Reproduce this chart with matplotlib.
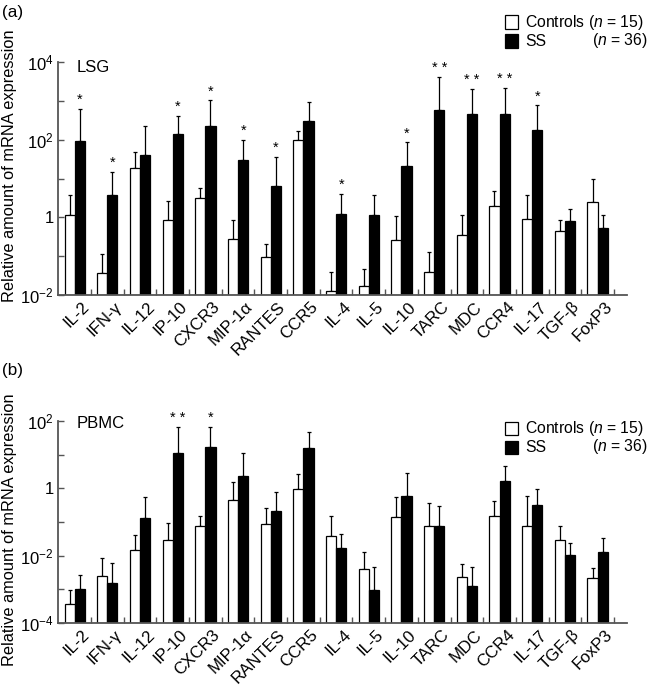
import matplotlib
matplotlib.use("Agg")
import matplotlib.pyplot as plt
from matplotlib.patches import Rectangle
from matplotlib.ticker import FixedLocator, FuncFormatter
from matplotlib.transforms import ScaledTranslation
import numpy as np

plt.rcParams['font.family'] = ['Liberation Sans', 'DejaVu Sans']
plt.rcParams['mathtext.fontset'] = 'custom'
plt.rcParams['mathtext.rm'] = 'Liberation Sans'
plt.rcParams['mathtext.it'] = 'Liberation Sans:italic'
plt.rcParams['mathtext.bf'] = 'Liberation Sans:bold'

categories = ["IL-2", "IFN-γ", "IL-12", "IP-10", "CXCR3", "MIP-1α", "RANTES", "CCR5",
              "IL-4", "IL-5", "IL-10", "TARC", "MDC", "CCR4", "IL-17", "TGF-β", "FoxP3"]

# LSG (panel a)
lsg_ctrl = [1.15, 0.036, 18.6, 0.83, 3.2, 0.28, 0.093, 100, 0.0126, 0.017, 0.26, 0.038, 0.36, 2.0, 0.89, 0.45, 2.45]
lsg_ctrl_err = [2.55, 0.081, 28.4, 1.87, 2.6, 0.55, 0.117, 70, 0.027, 0.029, 0.81, 0.088, 0.79, 2.9, 2.8, 0.40, 7.05]
lsg_ss = [91, 3.7, 40, 138, 224, 30, 6.6, 309, 1.23, 1.15, 21, 589, 447, 447, 182, 0.79, 0.52]
lsg_ss_err = [540, 11.1, 184, 269, 799, 68, 28.9, 624, 2.87, 2.55, 64, 3581, 1548, 1741, 577, 0.87, 0.65]
lsg_sig = ["*", "*", "", "*", "*", "*", "*", "", "*", "", "*", "**", "**", "**", "*", "", ""]

# PBMC (panel b)
pbmc_ctrl = [3.6e-4, 2.5e-3, 0.0145, 0.029, 0.078, 0.45, 0.087, 0.93, 0.038, 0.004, 0.138, 0.076, 0.00234, 0.148, 0.076, 0.0295, 0.00214]
pbmc_ctrl_err = [6.2e-4, 6.0e-3, 0.0255, 0.064, 0.073, 1.06, 0.17, 1.76, 0.117, 0.0092, 0.42, 0.287, 0.0033, 0.269, 0.524, 0.0465, 0.0021]
pbmc_ss = [1.05e-3, 1.55e-3, 0.132, 11.5, 17.4, 2.34, 0.214, 15.5, 0.017, 9.8e-4, 0.60, 0.076, 1.23e-3, 1.70, 0.31, 0.0107, 0.0126]
pbmc_ss_err = [1.58e-3, 4.35e-3, 0.405, 56.1, 50.2, 8.66, 0.576, 30.2, 0.0257, 3.59e-3, 2.22, 0.226, 3.45e-3, 2.77, 0.62, 0.0133, 0.0213]
pbmc_sig = ["", "", "", "**", "*", "", "", "", "", "", "", "", "", "", "", "", ""]

W, H = 651, 688
fig = plt.figure(figsize=(W / 100, H / 100), dpi=100)

spine_col = "#555555"
FS_X = 12.2
FS_Y = 12.0
FS_LEG = 11.3


def px_rect(l, t, r, b):
    return [l / W, 1 - b / H, (r - l) / W, (b - t) / H]


def panel(rect, ctrl, ctrl_err, ss, ss_err, sig, ylo, yhi, label_exps):
    ax = fig.add_axes(rect)
    n = len(categories)
    x = np.arange(n)
    bw = 0.31
    ax.set_yscale("log")
    ax.set_ylim(ylo, yhi)
    ax.set_xlim(-0.51, n - 0.1)
    base = ylo
    c = np.array(ctrl)
    s = np.array(ss)
    ax.bar(x - 0.155, c - base, bottom=base, width=bw, color="white", edgecolor="black", linewidth=0.9, zorder=2)
    ax.bar(x + 0.155, s - base, bottom=base, width=bw, color="black", edgecolor="black", linewidth=0.9, zorder=2)
    ax.errorbar(x - 0.155, c, yerr=[np.zeros(n), ctrl_err], fmt="none", ecolor="black", elinewidth=0.9, capsize=1.6, capthick=0.9, zorder=1)
    ax.errorbar(x + 0.155, s, yerr=[np.zeros(n), ss_err], fmt="none", ecolor="black", elinewidth=0.9, capsize=1.6, capthick=0.9, zorder=1)
    for i, st in enumerate(sig):
        if st:
            ax.annotate(" ".join(st) if len(st) > 1 else st, (x[i] + 0.155, s[i] + ss_err[i]), xytext=(0, 1.5),
                        textcoords="offset points", ha="center", va="bottom", fontsize=10.5)
    for sp in ["top", "right"]:
        ax.spines[sp].set_visible(False)
    for sp in ["left", "bottom"]:
        ax.spines[sp].set_color(spine_col)
        ax.spines[sp].set_linewidth(1.3)
    exps = list(range(int(np.log10(ylo)), int(np.log10(yhi)) + 1))
    ax.yaxis.set_major_locator(FixedLocator([10.0 ** e for e in exps]))
    ax.yaxis.set_minor_locator(FixedLocator([]))

    def fmt(v, pos):
        e = int(round(np.log10(v)))
        if e not in label_exps:
            return ""
        if e == 0:
            return "1"
        return r"$10^{%d}$" % e
    ax.yaxis.set_major_formatter(FuncFormatter(fmt))
    ax.tick_params(axis="y", direction="in", length=4, width=1.0, color=spine_col, labelsize=FS_Y, pad=3)
    ax.set_xticks(x)
    ax.set_xticklabels(categories, rotation=45, ha="right", va="top", rotation_mode="anchor", fontsize=FS_X)
    ax.tick_params(axis="x", which="major", length=0, pad=3)
    off = ScaledTranslation(7 / 100, 0, fig.dpi_scale_trans)
    for lab in ax.get_xticklabels():
        lab.set_transform(lab.get_transform() + off)
    ax.set_xticks(np.arange(n) + 0.5, minor=True)
    ax.tick_params(axis="x", which="minor", direction="in", length=4, width=1.0, color=spine_col)
    return ax


ax1 = panel(px_rect(58, 62, 627, 295), lsg_ctrl, lsg_ctrl_err, lsg_ss, lsg_ss_err, lsg_sig,
            1e-2, 1e4, [-2, 0, 2, 4])
ax2 = panel(px_rect(58, 421, 627, 623), pbmc_ctrl, pbmc_ctrl_err, pbmc_ss, pbmc_ss_err, pbmc_sig,
            1e-4, 1e2, [-4, -2, 0, 2])

fig.text(77 / W, 1 - 68 / H, "LSG", fontsize=12, va="center", ha="left")
fig.text(77 / W, 1 - 423 / H, "PBMC", fontsize=12, va="center", ha="left")

# panel labels
fig.text(2 / W, 1 - 12 / H, "(a)", fontsize=12.3, va="center", ha="left")
fig.text(2 / W, 1 - 371 / H, "(b)", fontsize=12.3, va="center", ha="left")

# y labels
ylab = "Relative amount of mRNA expression"
fig.text(10 / W, 1 - 166 / H, ylab, fontsize=11.8, rotation=90, va="center", ha="center")
fig.text(10 / W, 1 - 530 / H, ylab, fontsize=11.8, rotation=90, va="center", ha="center")


def legend(y1, y2):
    fig.add_artist(Rectangle((505 / W, 1 - (y1 + 6.5) / H), 13 / W, 13 / H, transform=fig.transFigure,
                             facecolor="white", edgecolor="black", linewidth=0.9))
    fig.add_artist(Rectangle((505 / W, 1 - (y2 + 6.5) / H), 13 / W, 13 / H, transform=fig.transFigure,
                             facecolor="black", edgecolor="black", linewidth=0.9))
    fig.text(525 / W, 1 - y1 / H, r"Controls ($\mathit{n}$ = 15)", fontsize=FS_LEG, va="center", ha="left")
    fig.text(525 / W, 1 - y2 / H, "SS", fontsize=FS_LEG, va="center", ha="left")
    fig.text(648 / W, 1 - y2 / H, r"($\mathit{n}$ = 36)", fontsize=FS_LEG, va="center", ha="right")


legend(22, 41)
legend(428, 447)

fig.savefig("out.png", dpi=100)
